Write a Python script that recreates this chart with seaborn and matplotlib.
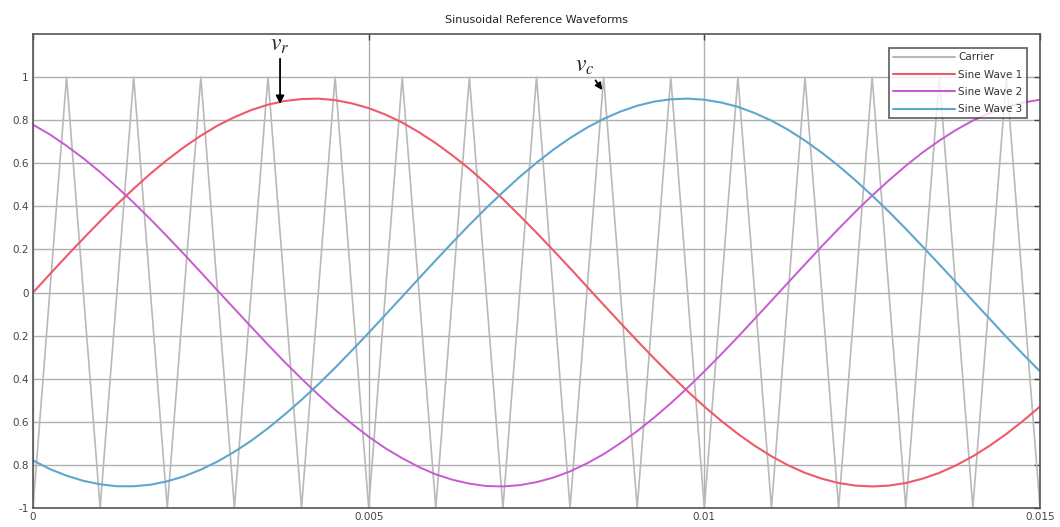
import matplotlib
matplotlib.use("Agg")
import matplotlib.pyplot as plt
import pandas as pd
import seaborn as sns

# ---- data ----
carrier_time = [0.0, 0.0005, 0.001, 0.0015, 0.002, 0.0025, 0.003, 0.0035, 0.004, 0.0045,
                0.005, 0.0055, 0.006, 0.0065, 0.007, 0.0075, 0.008, 0.0085, 0.009, 0.0095,
                0.01, 0.0105, 0.011, 0.0115, 0.012, 0.0125, 0.013, 0.0135, 0.014, 0.0145, 0.015]
carrier = [-1, 1, -1, 1, -1, 1, -1, 1, -1, 1,
           -1, 1, -1, 1, -1, 1, -1, 1, -1, 1,
           -1, 1, -1, 1, -1, 1, -1, 1, -1, 1, -1]
wave_time = [0.0, 0.00025, 0.0005, 0.00075, 0.001, 0.00125, 0.0015, 0.00175, 0.002, 0.00225,
             0.0025, 0.00275, 0.003, 0.00325, 0.0035, 0.00375, 0.004, 0.00425, 0.0045, 0.00475,
             0.005, 0.00525, 0.0055, 0.00575, 0.006, 0.00625, 0.0065, 0.00675, 0.007, 0.00725,
             0.0075, 0.00775, 0.008, 0.00825, 0.0085, 0.00875, 0.009, 0.00925, 0.0095, 0.00975,
             0.01, 0.01025, 0.0105, 0.01075, 0.011, 0.01125, 0.0115, 0.01175, 0.012, 0.01225,
             0.0125, 0.01275, 0.013, 0.01325, 0.0135, 0.01375, 0.014, 0.01425, 0.0145, 0.01475,
             0.015]
sine_wave_1 = [0.0, 0.085, 0.169, 0.251, 0.331, 0.409, 0.482, 0.552, 0.616, 0.675,
               0.728, 0.775, 0.814, 0.847, 0.872, 0.889, 0.898, 0.900, 0.893, 0.878,
               0.856, 0.826, 0.789, 0.744, 0.693, 0.636, 0.574, 0.506, 0.434, 0.357,
               0.278, 0.196, 0.113, 0.028, -0.057, -0.141, -0.224, -0.305, -0.383, -0.458,
               -0.529, -0.595, -0.656, -0.711, -0.760, -0.802, -0.837, -0.864, -0.884, -0.896,
               -0.900, -0.896, -0.884, -0.864, -0.837, -0.802, -0.760, -0.711, -0.656, -0.595,
               -0.529]
sine_wave_2 = [0.779, 0.734, 0.681, 0.623, 0.559, 0.490, 0.417, 0.340, 0.260, 0.178,
               0.094, 0.009, -0.075, -0.159, -0.242, -0.323, -0.400, -0.474, -0.544, -0.609,
               -0.669, -0.723, -0.769, -0.810, -0.844, -0.869, -0.887, -0.898, -0.900, -0.894,
               -0.880, -0.859, -0.830, -0.793, -0.750, -0.699, -0.643, -0.581, -0.514, -0.442,
               -0.366, -0.287, -0.206, -0.122, -0.038, 0.047, 0.131, 0.215, 0.296, 0.375,
               0.450, 0.521, 0.588, 0.650, 0.705, 0.755, 0.798, 0.833, 0.862, 0.882,
               0.895]
sine_wave_3 = [-0.779, -0.819, -0.850, -0.874, -0.890, -0.899, -0.899, -0.892, -0.876, -0.853,
               -0.822, -0.784, -0.739, -0.688, -0.630, -0.566, -0.498, -0.426, -0.349, -0.269,
               -0.187, -0.103, -0.019, 0.066, 0.150, 0.233, 0.314, 0.392, 0.466, 0.537,
               0.602, 0.663, 0.717, 0.765, 0.806, 0.840, 0.867, 0.886, 0.897, 0.900,
               0.895, 0.882, 0.862, 0.833, 0.798, 0.755, 0.705, 0.649, 0.588, 0.521,
               0.450, 0.375, 0.296, 0.214, 0.131, 0.047, -0.038, -0.122, -0.206, -0.287,
               -0.366]
series_names = ["Carrier", "Sine Wave 1", "Sine Wave 2", "Sine Wave 3"]
series_colors = ["#b9b9b9", "#ee5a6a", "#c75ad2", "#5fa6cf"]
x_ticks = [0, 0.005, 0.01, 0.015]
x_tick_labels = ["0", "0.005", "0.01", "0.015"]
y_ticks = [-1, -0.8, -0.6, -0.4, -0.2, 0, 0.2, 0.4, 0.6, 0.8, 1]
y_tick_labels = ["-1", "0.8", "0.6", "0.4", "0.2", "0", "0.2", "0.4", "0.6", "0.8", "1"]
title = "Sinusoidal Reference Waveforms"

frames = [pd.DataFrame({"t": carrier_time, "v": carrier, "series": series_names[0]})]
for name, vals in zip(series_names[1:], [sine_wave_1, sine_wave_2, sine_wave_3]):
    frames.append(pd.DataFrame({"t": wave_time, "v": vals, "series": name}))
df = pd.concat(frames, ignore_index=True)

sns.set_style("white")
plt.rcParams["font.family"] = ["DejaVu Sans"]
plt.rcParams["mathtext.fontset"] = "stix"

fig = plt.figure(figsize=(10.6, 5.27), dpi=100)
ax = fig.add_axes([33 / 1060, 19 / 527, 1007 / 1060, 474 / 527])

widths = {"Carrier": 1.2, "Sine Wave 1": 1.5, "Sine Wave 2": 1.4, "Sine Wave 3": 1.5}
for name, col in zip(series_names, series_colors):
    sub = df[df["series"] == name]
    sns.lineplot(data=sub, x="t", y="v", ax=ax, color=col, lw=widths[name],
                 label=name, estimator=None, sort=False)

ax.set_xlim(0, 0.015)
ax.set_ylim(-1, 1.2)
ax.set_xticks(x_ticks)
ax.set_xticklabels(x_tick_labels)
ax.set_yticks(y_ticks)
ax.set_yticklabels(y_tick_labels)
ax.set_xlabel("")
ax.set_ylabel("")
ax.grid(True, color="#b0b0b0", lw=1.0)
ax.set_axisbelow(True)
ax.tick_params(direction="in", top=True, right=True, length=4, width=1,
               labelsize=7.5, colors="#444444", pad=3)
for s in ax.spines.values():
    s.set_color("#555555")
    s.set_linewidth(1.2)

ax.set_title(title, fontsize=8, color="#222222", pad=8)

ax.annotate(r"$v_r$", xy=(0.00368, 0.875), xytext=(0.00368, 1.1),
            ha="center", va="bottom", fontsize=17,
            arrowprops=dict(arrowstyle="-|>", color="black", lw=1.3,
                            mutation_scale=12, shrinkA=0, shrinkB=0))
ax.annotate(r"$v_c$", xy=(0.00848, 0.94), xytext=(0.00822, 1.0),
            ha="center", va="bottom", fontsize=17,
            arrowprops=dict(arrowstyle="-|>", color="black", lw=1.3,
                            mutation_scale=10, shrinkA=0, shrinkB=0))

leg = ax.legend(loc="upper right", bbox_to_anchor=(0.987, 0.97), fontsize=7.5,
                frameon=True, fancybox=False, handlelength=6.0, handletextpad=0.3,
                borderpad=0.4, labelspacing=0.7, borderaxespad=0)
leg.get_frame().set_edgecolor("#333333")
leg.get_frame().set_linewidth(1.2)
for t in leg.get_texts():
    t.set_color("#333333")
for h in leg.get_lines():
    h.set_linewidth(1.5)

fig.savefig("out.png", dpi=100)
